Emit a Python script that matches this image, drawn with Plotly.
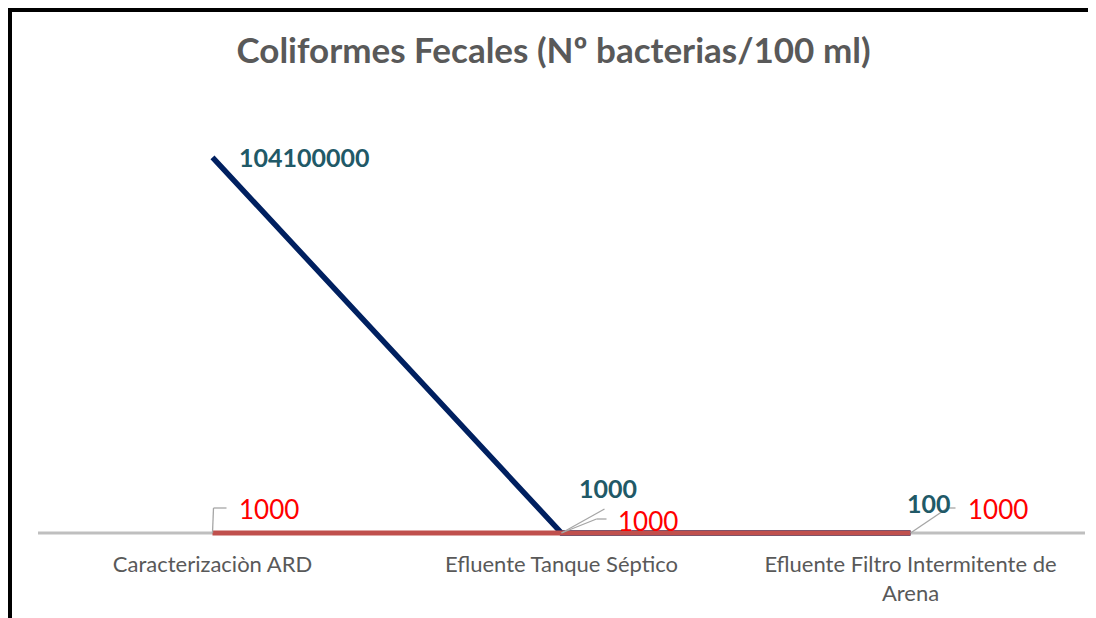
import plotly.graph_objects as go

categories = ["Caracterizaciòn ARD", "Efluente Tanque Séptico",
              "Efluente Filtro Intermitente de<br>Arena"]
serie_ard = [104100000, 1000, 100]
serie_ref = [1000, 1000, 1000]
title_text = "Coliformes Fecales (Nº bacterias/100 ml)"

FONT = "Lato"
xs = [0, 1, 2]
W, H = 1096, 618
YMAX = 120000000
BASE_PH = 433          # pixel height from axis max down to zero line
PAD = 10               # extra pixels below zero so lines are not clipped
ML, MR, MT, MB = 30, 19, 92, 93 - PAD
PW, PH = W - ML - MR, H - MT - MB
YMIN = -PAD * YMAX / BASE_PH

fig = go.Figure()
# category axis line
fig.add_shape(type="line", xref="paper", yref="y", x0=0, x1=1, y0=0, y1=0,
              line=dict(color="#BFBFBF", width=3), layer="below")

fig.add_trace(go.Scatter(x=xs, y=serie_ard, mode="lines",
                         line=dict(color="#002060", width=5.5), showlegend=False))
fig.add_trace(go.Scatter(x=xs, y=serie_ref, mode="lines",
                         line=dict(color="#C0504D", width=5), showlegend=False))

teal = "#215967"
lab1 = [(24, 0), (15, 45), (-6, 30)]
for i, (dx, dy) in enumerate(lab1):
    fig.add_annotation(x=xs[i], y=serie_ard[i], xref="x", yref="y",
                       text=f"<b>{serie_ard[i]}</b>", showarrow=False,
                       xshift=dx, yshift=dy, xanchor="left", yanchor="middle",
                       font=dict(family=FONT, size=25, color=teal))
lab2 = [(24, 24), (54, 12), (55, 24)]
for i, (dx, dy) in enumerate(lab2):
    fig.add_annotation(x=xs[i], y=serie_ref[i], xref="x", yref="y",
                       text=f"{serie_ref[i]}", showarrow=False,
                       xshift=dx, yshift=dy, xanchor="left", yanchor="middle",
                       font=dict(family=FONT, size=26, color="#FF0000"))

# leader lines (pixel offsets from the data point)
leaders = [
    (0, serie_ref[0], [(0, 0), (1, 25), (14, 25)]),
    (1, serie_ref[1], [(0, 0), (35, 14), (45, 14)]),
    (1, serie_ard[1], [(0, 0), (43, 24)]),
    (2, serie_ref[2], [(0, 0), (37, 25), (45, 25)]),
]
for xi, yv, pts in leaders:
    for (x0, y0), (x1, y1) in zip(pts[:-1], pts[1:]):
        fig.add_shape(type="line", xref="x", yref="y",
                      xsizemode="pixel", ysizemode="pixel",
                      xanchor=xs[xi], yanchor=yv,
                      x0=x0, x1=x1, y0=y0, y1=y1,
                      line=dict(color="#A6A6A6", width=1.3))

# border frame (left and top), in paper fraction of plot area
lx = (2 - ML) / PW
ty = 1 + (MT - 2) / PH
fig.add_shape(type="line", xref="paper", yref="paper", x0=lx, x1=lx,
              y0=-MB / PH - 0.05, y1=ty + 0.005, line=dict(color="black", width=4))
fig.add_shape(type="line", xref="paper", yref="paper", x0=lx - 0.002, x1=1.05,
              y0=ty, y1=ty, line=dict(color="black", width=4))

fig.update_layout(
    width=W, height=H,
    paper_bgcolor="white", plot_bgcolor="white",
    margin=dict(l=ML, r=MR, t=MT, b=MB),
    title=dict(text=f"<b>{title_text}</b>", x=0.5 - 8 / PW, xanchor="center",
               xref="paper", y=1 - 43 / H, yanchor="middle",
               font=dict(family=FONT, size=35, color="#595959")),
    xaxis=dict(range=[-0.5, 2.5], tickvals=xs, ticktext=categories,
               showgrid=False, zeroline=False, showline=False, ticks="",
               ticklabelstandoff=16 - PAD,
               tickfont=dict(family=FONT, size=22, color="#595959")),
    yaxis=dict(range=[YMIN, YMAX], visible=False, showgrid=False, zeroline=False),
)

fig.write_html("out.html")
